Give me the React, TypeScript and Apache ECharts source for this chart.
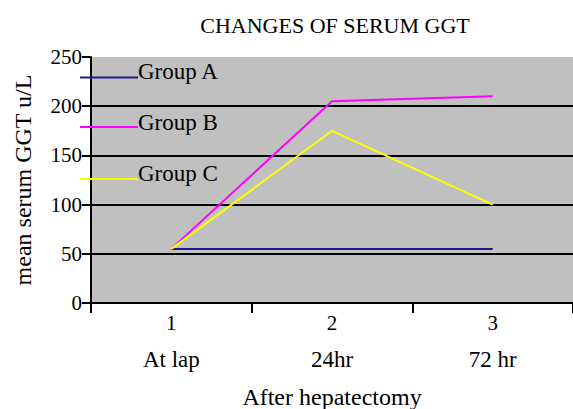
import React, { useEffect, useRef } from "react";
import * as echarts from "echarts";

const categories = ["1", "2", "3"];
const subLabels = ["At lap", "24hr", "72 hr"];
const groupNames = ["Group A", "Group B", "Group C"];
const groupA = [55, 55, 55];
const groupB = [55, 205, 210];
const groupC = [55, 175, 100];
const colors = ["#1c1c88", "#ff00ff", "#ffff00"];
const yTicks = { min: 0, max: 250, interval: 50 };

const FONT = "Liberation Serif";

export default function App() {
  const ref = useRef<HTMLDivElement>(null);
  useEffect(() => {
    if (!ref.current) return;
    const chart = echarts.init(ref.current, undefined, { renderer: "svg" });
    const seriesData = [groupA, groupB, groupC];
    const legendLineY = [77.5, 127, 179];
    const legendTextY = [71.5, 122.5, 173];
    const graphics: any[] = [];
    groupNames.forEach((name, i) => {
      graphics.push({
        type: "line",
        shape: { x1: 80, y1: legendLineY[i], x2: 138, y2: legendLineY[i] },
        style: { stroke: colors[i], lineWidth: 2 },
        z: 100,
      });
      graphics.push({
        type: "text",
        x: 138,
        y: legendTextY[i],
        style: {
          text: name,
          font: `23px ${FONT}`,
          fill: "#000",
          textVerticalAlign: "middle",
          verticalAlign: "middle",
        },
        z: 100,
      });
    });
    chart.setOption({
      animation: false,
      backgroundColor: "#fff",
      textStyle: { fontFamily: FONT },
      title: {
        text: "CHANGES OF SERUM GGT",
        left: 330,
        top: 9,
        textAlign: "center",
        textStyle: { fontFamily: FONT, fontSize: 22, fontWeight: "normal", color: "#000" },
      },
      grid: {
        left: 91,
        right: 0,
        top: 57,
        bottom: 106,
        show: true,
        backgroundColor: "#c0c0c0",
        borderWidth: 0,
        containLabel: false,
        outerBoundsMode: "none",
      },
      xAxis: {
        type: "category",
        data: categories,
        boundaryGap: true,
        name: "After hepatectomy",
        nameLocation: "middle",
        nameGap: 82,
        nameTextStyle: { fontFamily: FONT, fontSize: 24, color: "#000" },
        axisLine: { lineStyle: { color: "#000", width: 2 } },
        axisTick: { show: true, length: 10, lineStyle: { color: "#000", width: 2 } },
        axisLabel: {
          margin: 2,
          color: "#000",
          fontFamily: FONT,
          formatter: (v: string, i: number) => `{a|${v}}\n{b|${subLabels[i]}}`,
          rich: {
            a: { fontFamily: FONT, fontSize: 21, lineHeight: 36, color: "#000" },
            b: { fontFamily: FONT, fontSize: 23, lineHeight: 36, color: "#000" },
          },
        },
      },
      yAxis: {
        type: "value",
        min: yTicks.min,
        max: yTicks.max,
        interval: yTicks.interval,
        name: "mean serum GGT u/L",
        nameLocation: "middle",
        nameGap: 56,
        nameTextStyle: { fontFamily: FONT, fontSize: 24, color: "#000" },
        axisLine: { show: true, lineStyle: { color: "#000", width: 2 } },
        axisTick: { show: true, length: 9, lineStyle: { color: "#000", width: 2 } },
        axisLabel: { margin: 9, fontFamily: FONT, fontSize: 21, color: "#000" },
        splitLine: { show: true, showMaxLine: false, lineStyle: { color: "#000", width: 2 } },
      },
      series: groupNames.map((name, i) => ({
        name,
        type: "line",
        data: seriesData[i],
        showSymbol: false,
        symbol: "none",
        lineStyle: { color: colors[i], width: 2 },
        itemStyle: { color: colors[i] },
        z: 10,
      })),
      graphic: graphics,
    });
    return () => chart.dispose();
  }, []);
  return <div ref={ref} style={{ width: 573, height: 409, position: "absolute", left: 0, top: 0 }} />;
}
